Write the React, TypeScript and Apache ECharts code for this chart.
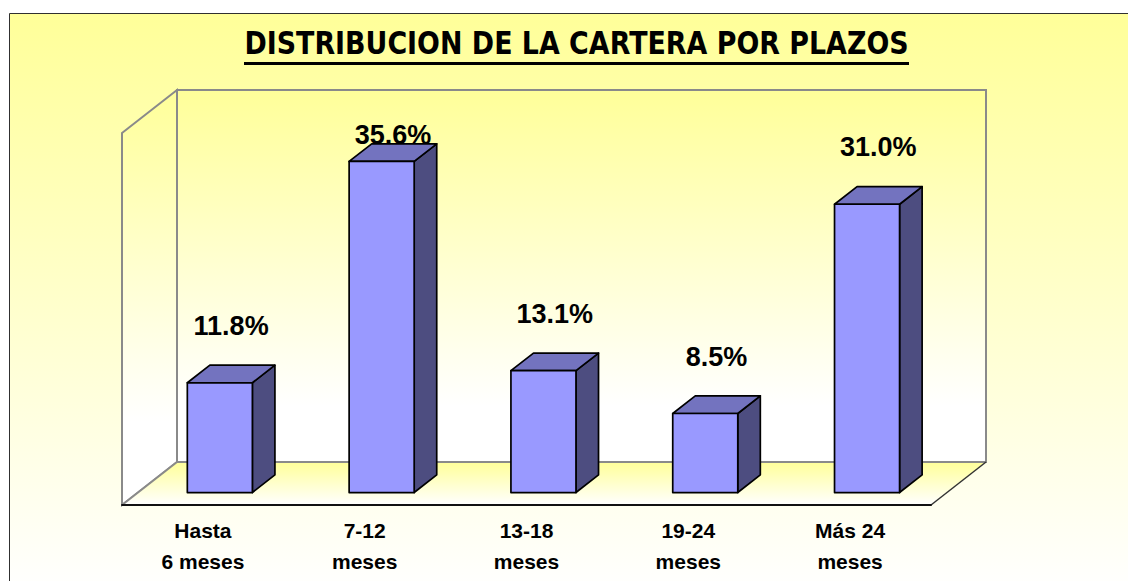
import React, { useEffect, useRef } from "react";
import * as echarts from "echarts";

const categories = ["Hasta\n6 meses", "7-12\nmeses", "13-18\nmeses", "19-24\nmeses", "Más 24\nmeses"];
const values = [11.8, 35.6, 13.1, 8.5, 31.0];
const valueLabels = ["11.8%", "35.6%", "13.1%", "8.5%", "31.0%"];
const titleText = "DISTRIBUCION DE LA CARTERA POR PLAZOS";
const yMin = 0;
const yMax = 40;

// 3D projection (pixels for full floor depth)
const DX = 55;
const DY = -43;
const BAR_FRONT = 0.29;
const BAR_BACK = 0.7;
const BAR_HALF = 0.201;

export default function App() {
  const ref = useRef<HTMLDivElement>(null);
  useEffect(() => {
    if (!ref.current) return;
    const chart = echarts.init(ref.current, null, { renderer: "svg" });
    const yellowWhite = (end: number) =>
      new echarts.graphic.LinearGradient(0, 0, 0, 1, [
        { offset: 0, color: "#FFFF99" },
        { offset: end, color: "#FFFFFF" },
        { offset: 1, color: "#FFFFFF" },
      ]);

    const option: any = {
      animation: false,
      graphic: [
        {
          type: "rect",
          z: -10,
          shape: { x: 9.5, y: 13.5, width: 1130, height: 580 },
          style: {
            fill: new echarts.graphic.LinearGradient(0, 0, 0, 1, [
              { offset: 0, color: "#FFFF99" },
              { offset: 1, color: "#FFFFFF" },
            ]),
            stroke: "#303030",
            lineWidth: 1,
          },
        },
        {
          type: "text",
          x: 576.5,
          y: 43.5,
          scaleX: 0.84,
          style: {
            text: titleText,
            x: 0,
            y: 0,
            align: "center",
            verticalAlign: "middle",
            font: "bold 32px 'DejaVu Sans'",
            fill: "#000000",
          },
        },
        {
          type: "rect",
          shape: { x: 244, y: 62, width: 665, height: 3 },
          style: { fill: "#000000" },
        },
      ],
      grid: { left: 122, right: 197, top: 133, bottom: 76 },
      xAxis: {
        type: "category",
        data: categories,
        z: 5,
        axisLine: { lineStyle: { color: "#111111", width: 2 } },
        axisTick: { length: 6, lineStyle: { color: "#111111", width: 1.5 } },
        axisLabel: {
          color: "#000000",
          fontFamily: "Liberation Sans",
          fontWeight: "bold",
          fontSize: 21,
          lineHeight: 31,
          margin: 10,
        },
        splitLine: { show: false },
      },
      yAxis: {
        type: "value",
        min: yMin,
        max: yMax,
        show: false,
        splitLine: { show: false },
      },
      series: [
        {
          type: "custom",
          z: 1,
          silent: true,
          data: [[0, 0]],
          renderItem: (params: any) => {
            const cs = params.coordSys;
            const L = cs.x;
            const R = cs.x + cs.width;
            const T = cs.y;
            const B = cs.y + cs.height;
            const gray = "#8A8A8A";
            return {
              type: "group",
              children: [
                {
                  type: "polygon",
                  shape: { points: [[L, T], [L + DX, T + DY], [L + DX, B + DY], [L, B]] },
                  style: { fill: yellowWhite(0.8), stroke: gray, lineWidth: 2 },
                },
                {
                  type: "rect",
                  shape: { x: L + DX, y: T + DY, width: R - L, height: B - T },
                  style: { fill: yellowWhite(0.85), stroke: gray, lineWidth: 2 },
                },
                {
                  type: "polygon",
                  shape: { points: [[L + DX, B + DY], [R + DX, B + DY], [R, B], [L, B]] },
                  style: { fill: yellowWhite(1), stroke: null },
                },
                {
                  type: "line",
                  shape: { x1: L + DX, y1: B + DY, x2: R + DX, y2: B + DY },
                  style: { stroke: gray, lineWidth: 2 },
                },
                {
                  type: "line",
                  shape: { x1: L, y1: B, x2: L + DX, y2: B + DY },
                  style: { stroke: gray, lineWidth: 2 },
                },
                {
                  type: "line",
                  shape: { x1: R, y1: B, x2: R + DX, y2: B + DY },
                  style: { stroke: "#333333", lineWidth: 1.5 },
                },
              ],
            };
          },
        },
        {
          type: "custom",
          z: 3,
          silent: true,
          data: values.map((v, i) => [i, v]),
          renderItem: (params: any, api: any) => {
            const idx = api.value(0);
            const val = api.value(1);
            const top = api.coord([idx, val]);
            const base = api.coord([idx, yMin]);
            const band = api.size([1, 0])[0];
            const hw = band * BAR_HALF;
            const cx = top[0] + 1 + DX * BAR_FRONT;
            const yt = top[1] + DY * BAR_FRONT;
            const yb = base[1] + DY * BAR_FRONT;
            const x0 = cx - hw;
            const x1 = cx + hw;
            const ddx = DX * (BAR_BACK - BAR_FRONT);
            const ddy = DY * (BAR_BACK - BAR_FRONT);
            const stroke = { stroke: "#000000", lineWidth: 1.7, lineJoin: "round" };
            const midTop = yt + ddy / 2;
            const ly = Math.max(midTop - 48, 135);
            return {
              type: "group",
              children: [
                {
                  type: "polygon",
                  shape: { points: [[x1, yt], [x1 + ddx, yt + ddy], [x1 + ddx, yb + ddy], [x1, yb]] },
                  style: { fill: "#4D4D80", ...stroke },
                },
                {
                  type: "polygon",
                  shape: { points: [[x0, yt], [x1, yt], [x1 + ddx, yt + ddy], [x0 + ddx, yt + ddy]] },
                  style: { fill: "#7373BF", ...stroke },
                },
                {
                  type: "rect",
                  shape: { x: x0, y: yt, width: x1 - x0, height: yb - yt },
                  style: { fill: "#9999FF", ...stroke },
                },
                {
                  type: "text",
                  style: {
                    text: valueLabels[params.dataIndex],
                    x: cx + ddx / 2,
                    y: ly,
                    align: "center",
                    verticalAlign: "middle",
                    font: "bold 27px 'Liberation Sans'",
                    fill: "#000000",
                  },
                },
              ],
            };
          },
        },
      ],
    };
    chart.setOption(option);
    return () => chart.dispose();
  }, []);
  return (
    <div
      ref={ref}
      style={{ position: "fixed", left: 0, top: 0, width: 1128, height: 581, background: "#FFFFFF" }}
    />
  );
}
